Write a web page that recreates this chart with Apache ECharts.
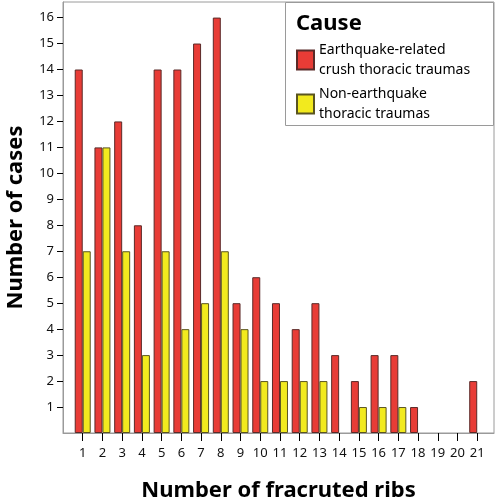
<!DOCTYPE html>
<html>
<head>
<meta charset="utf-8">
<script src="https://cdn.jsdelivr.net/npm/echarts@6/dist/echarts.min.js"></script>
<style>html,body{margin:0;padding:0;background:#fff}#c{width:498px;height:501px}</style>
</head>
<body>
<div id="c"></div>
<script>
const ribs = [1,2,3,4,5,6,7,8,9,10,11,12,13,14,15,16,17,18,19,20,21];
const earthquake = [14,11,12,8,14,14,15,16,5,6,5,4,5,3,2,3,3,1,0,0,2];
const nonEarthquake = [7,11,7,3,7,4,5,7,4,2,2,2,2,0,1,1,1,0,0,0,0];
const yTicks = [1,2,3,4,5,6,7,8,9,10,11,12,13,14,15,16];
const seriesNames = ['Earthquake-related crush thoracic traumas', 'Non-earthquake thoracic traumas'];
const legendLabels = {
  'Earthquake-related crush thoracic traumas': 'Earthquake-related\ncrush thoracic traumas',
  'Non-earthquake thoracic traumas': 'Non-earthquake\nthoracic traumas'
};

const toPairs = arr => ribs.map((r, i) => [r, arr[i]]).filter(p => p[1] > 0);

const chart = echarts.init(document.getElementById('c'), null, {renderer: 'canvas'});
const font = 'Noto Sans';
chart.setOption({
  animation: false,
  backgroundColor: '#fff',
  grid: {left: 63, right: 4, top: 2, bottom: 68, outerBoundsMode: 'none', containLabel: false,
         show: true, borderColor: '#9a9a9a', borderWidth: 1, backgroundColor: '#fff'},
  title: {
    text: 'Cause', left: 291, top: 8,
    textStyle: {fontFamily: font, fontWeight: 'bold', fontSize: 22, color: '#000'}
  },
  graphic: [{
    type: 'rect', shape: {x: 285.5, y: 2.5, width: 208, height: 123},
    style: {fill: '#fff', stroke: '#9a9a9a', lineWidth: 1}, z: 0
  }],
  legend: {
    orient: 'vertical', left: 291, top: 35, itemWidth: 17, itemHeight: 19, itemGap: 4,
    data: seriesNames, icon: 'rect', selectedMode: false,
    formatter: n => legendLabels[n],
    textStyle: {fontFamily: font, fontSize: 14, lineHeight: 20, color: '#000'},
    z: 5
  },
  xAxis: {
    type: 'value', min: 0, max: 21.85, interval: 1,
    name: 'Number of fracruted ribs', nameLocation: 'middle', nameGap: 47,
    nameTextStyle: {fontFamily: font, fontWeight: 'bold', fontSize: 22, color: '#000'},
    axisLine: {lineStyle: {color: '#9a9a9a', width: 1}},
    axisTick: {show: true, length: 8, lineStyle: {color: '#000', width: 1}, customValues: ribs},
    axisLabel: {margin: 14, customValues: ribs, fontFamily: font, fontSize: 13, color: '#111'},
    splitLine: {show: false}
  },
  yAxis: {
    type: 'value', min: 0, max: 16.6, interval: 1,
    name: 'Number of cases', nameLocation: 'middle', nameGap: 36,
    nameTextStyle: {fontFamily: font, fontWeight: 'bold', fontSize: 22, color: '#000'},
    axisLine: {show: true, lineStyle: {color: '#9a9a9a', width: 1}},
    axisTick: {show: true, length: 6, lineStyle: {color: '#000', width: 1}, customValues: yTicks},
    axisLabel: {margin: 9, customValues: yTicks, fontFamily: font, fontSize: 13, color: '#111'},
    splitLine: {show: false}
  },
  series: [
    {
      name: seriesNames[0], type: 'bar', data: toPairs(earthquake), barWidth: 8, barGap: '0%',
      itemStyle: {color: '#e83c36', borderColor: '#5a2a28', borderWidth: 1}
    },
    {
      name: seriesNames[1], type: 'bar', data: toPairs(nonEarthquake), barWidth: 8, barGap: '0%',
      itemStyle: {color: '#f2ea1e', borderColor: '#5a5520', borderWidth: 1}
    }
  ]
});
</script>
</body>
</html>
